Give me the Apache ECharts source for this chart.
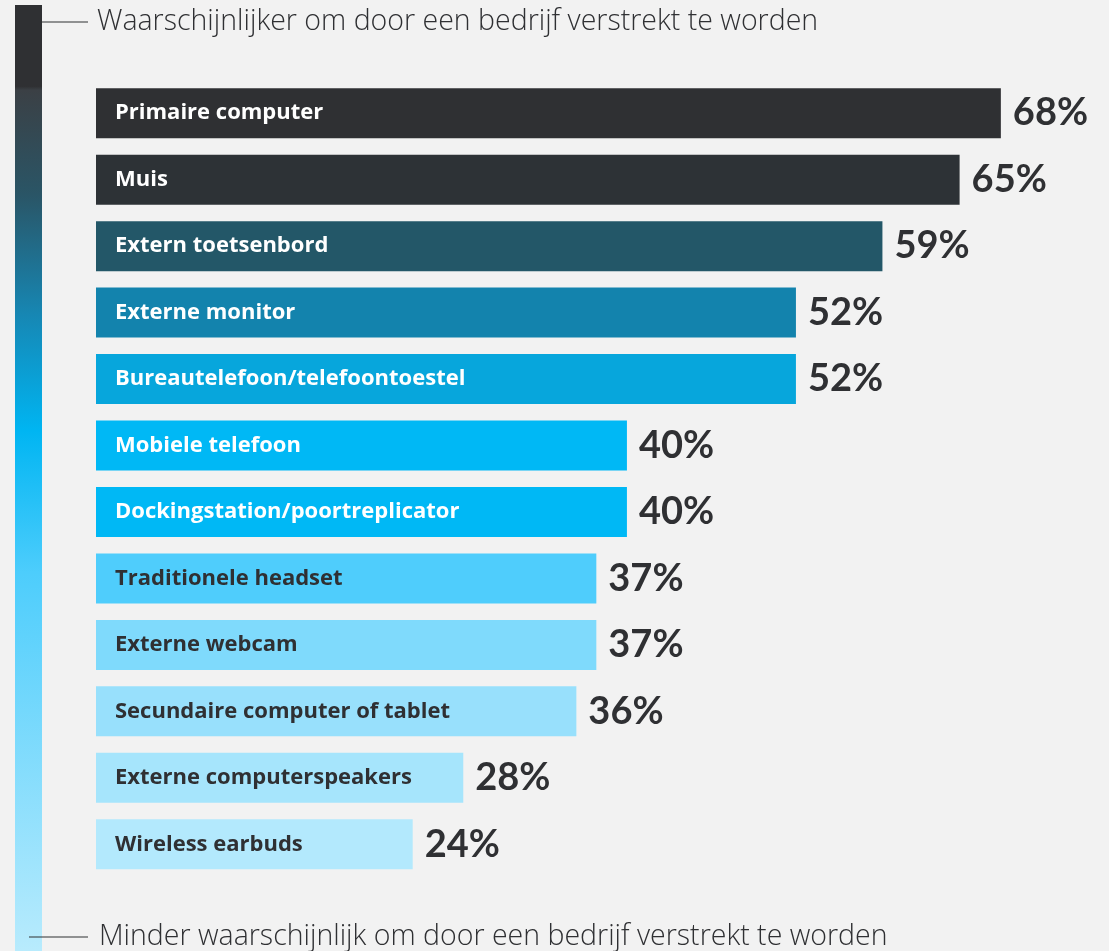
<!DOCTYPE html>
<html>
<head>
<meta charset="utf-8">
<script src="https://cdn.jsdelivr.net/npm/echarts@6/dist/echarts.min.js"></script>
<style>
html,body{margin:0;padding:0;background:#f2f2f2;}
#c{width:1109px;height:951px;}
</style>
</head>
<body>
<div id="c"></div>
<script>
const categories = [
  "Primaire computer",
  "Muis",
  "Extern toetsenbord",
  "Externe monitor",
  "Bureautelefoon/telefoontoestel",
  "Mobiele telefoon",
  "Dockingstation/poortreplicator",
  "Traditionele headset",
  "Externe webcam",
  "Secundaire computer of tablet",
  "Externe computerspeakers",
  "Wireless earbuds"
];
// bar lengths as drawn in the picture (labels show rounded percentages)
const values = [68.0, 64.9, 59.1, 52.6, 52.6, 39.9, 39.9, 37.6, 37.6, 36.1, 27.6, 23.8];
const valueLabels = ["68%", "65%", "59%", "52%", "52%", "40%", "40%", "37%", "37%", "36%", "28%", "24%"];
const barColors = ["#2f3033","#2d3236","#235768","#1383ad","#07a6dc","#00b8f5","#00b8f5","#4fcdfc","#7fdafc","#98e0fc","#a6e5fc","#b3e9fd"];
const labelColors = ["#ffffff","#ffffff","#ffffff","#ffffff","#ffffff","#ffffff","#ffffff","#2f3033","#2f3033","#2f3033","#2f3033","#2f3033"];
const topText = "Waarschijnlijker om door een bedrijf verstrekt te worden";
const bottomText = "Minder waarschijnlijk om door een bedrijf verstrekt te worden";

const chart = echarts.init(document.getElementById('c'));
const font = "'Open Sans', Lato, sans-serif";
const valFont = "Lato, 'Open Sans', sans-serif";

chart.setOption({
  backgroundColor: "#f2f2f2",
  animation: false,
  grid: { left: 96, right: 15, top: 80, height: 797.5 },
  xAxis: { type: 'value', min: 0, max: 75, show: false },
  yAxis: { type: 'category', data: categories, inverse: true, show: false },
  series: [
    {
      type: 'bar',
      barWidth: 50,
      barGap: '-100%',
      data: values.map((v, i) => ({
        value: v,
        itemStyle: { color: barColors[i] },
        label: { color: labelColors[i] }
      })),
      label: {
        show: true,
        position: 'insideLeft',
        distance: 19,
        formatter: p => categories[p.dataIndex],
        fontFamily: font,
        fontWeight: 'bold',
        fontSize: 22
      }
    },
    {
      type: 'bar',
      barWidth: 50,
      barGap: '-100%',
      data: values,
      itemStyle: { color: 'transparent' },
      label: {
        show: true,
        position: 'right',
        distance: 12,
        formatter: p => valueLabels[p.dataIndex],
        color: '#2f3033',
        fontFamily: valFont,
        fontWeight: 'bold',
        fontSize: 38
      },
      silent: true
    }
  ],
  graphic: [
    {
      type: 'rect',
      shape: { x: 15, y: 5, width: 27, height: 946 },
      style: {
        fill: new echarts.graphic.LinearGradient(0, 0, 0, 1, [
          { offset: 0, color: '#2f3033' },
          { offset: 0.086, color: '#2f3033' },
          { offset: 0.09, color: '#3b4045' },
          { offset: 0.2, color: '#2a5566' },
          { offset: 0.33, color: '#1688b5' },
          { offset: 0.45, color: '#00b5f2' },
          { offset: 0.6, color: '#4dcdfc' },
          { offset: 1, color: '#b8ebfd' }
        ])
      }
    },
    {
      type: 'line',
      shape: { x1: 42, y1: 22, x2: 88, y2: 22 },
      style: { stroke: '#2f3033', lineWidth: 1.2 }
    },
    {
      type: 'text',
      left: 97, top: 7,
      style: { text: topText, fill: '#2f3033', font: "300 28.5px " + font }
    },
    {
      type: 'line',
      shape: { x1: 29, y1: 937, x2: 88, y2: 937 },
      style: { stroke: '#2f3033', lineWidth: 1.2 }
    },
    {
      type: 'text',
      left: 99, top: 922,
      style: { text: bottomText, fill: '#2f3033', font: "300 28.5px " + font }
    }
  ]
});
</script>
</body>
</html>
